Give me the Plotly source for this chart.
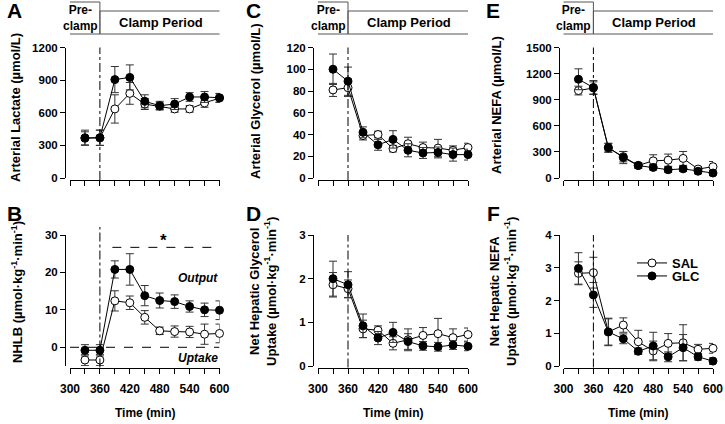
import plotly.graph_objects as go

# ── data ─────────────────────────────────────────────────────
time = [330, 360, 390, 420, 450, 480, 510, 540, 570, 600]

lac_sal = [365, 370, 635, 778, 680, 660, 635, 635, 690, 735]
lac_sal_err = [60, 70, 130, 100, 50, 30, 30, 30, 40, 40]
lac_glc = [370, 370, 905, 925, 705, 665, 680, 745, 745, 738]
lac_glc_err = [70, 70, 120, 115, 60, 40, 50, 40, 50, 40]

nhlb_sal = [-3.4, -3.4, 12.4, 11.9, 8.0, 4.4, 4.2, 4.1, 3.5, 3.7]
nhlb_sal_err = [1.5, 1.5, 2.7, 1.8, 1.8, 1.0, 1.5, 1.5, 2.7, 2.5]
nhlb_glc = [-0.8, -0.8, 20.8, 20.8, 13.8, 12.5, 12.2, 10.9, 10.0, 9.9]
nhlb_glc_err = [1.5, 1.5, 2.3, 4.2, 2.7, 2.0, 1.8, 1.5, 1.8, 2.5]

gly_sal = [81, 83, 39, 40, 27, 31.5, 28, 27.5, 25.5, 28]
gly_sal_err = [6, 8, 4, 3, 3, 6, 5, 8, 4, 4]
gly_glc = [100, 89, 42, 30.5, 35.5, 25.5, 23, 23.5, 21.5, 21.5]
gly_glc_err = [14, 13, 5, 5, 8, 6, 5, 5, 6, 5]

glyup_sal = [1.86, 1.77, 0.85, 0.82, 0.52, 0.60, 0.70, 0.74, 0.65, 0.72]
glyup_sal_err = [0.28, 0.2, 0.2, 0.1, 0.15, 0.25, 0.18, 0.35, 0.2, 0.15]
glyup_glc = [2.0, 1.86, 0.92, 0.64, 0.77, 0.56, 0.46, 0.44, 0.48, 0.45]
glyup_glc_err = [0.4, 0.3, 0.27, 0.15, 0.23, 0.18, 0.1, 0.1, 0.1, 0.1]

nefa_sal = [1005, 1035, 345, 245, 145, 197, 205, 225, 103, 130]
nefa_sal_err = [50, 70, 50, 60, 30, 70, 70, 80, 30, 60]
nefa_glc = [1135, 1040, 350, 235, 143, 122, 95, 105, 78, 57]
nefa_glc_err = [120, 80, 50, 70, 30, 30, 30, 30, 30, 30]

nefaup_sal = [2.83, 2.85, 1.04, 1.25, 0.74, 0.46, 0.69, 0.71, 0.51, 0.54]
nefaup_sal_err = [0.35, 0.47, 0.4, 0.22, 0.35, 0.3, 0.3, 0.55, 0.15, 0.15]
nefaup_glc = [2.98, 2.17, 1.04, 0.83, 0.45, 0.61, 0.28, 0.56, 0.28, 0.15]
nefaup_glc_err = [0.48, 0.38, 0.42, 0.15, 0.1, 0.42, 0.15, 0.4, 0.1, 0.1]

clamp_start = 360
sig_start, sig_end, sig_level = 385, 590, 26.7

W, H = 725, 424
FONT = "Liberation Sans, Arial, sans-serif"


def px_x(v):
    return v / W


def px_y(v):
    return 1 - v / H


def note(fig, x, y, text, size=12, **kw):
    fig.add_annotation(x=x, y=y, text=text, showarrow=False,
                       xanchor=kw.pop("xanchor", "center"), yanchor=kw.pop("yanchor", "middle"),
                       font=dict(family=FONT, size=size, color="black", weight="bold"), **kw)


fig = go.Figure()

# panel geometry in pixels: (x-domain left, right, y-axis x) / (y top, y bottom, x-axis line y)
cols = [(70, 219.5, 65), (318, 468, 313), (563.5, 713, 559)]
rows = [(47.5, 178, 180), (235, 366, 367.5)]

panels = [
    # (col, row, sal, sal_err, glc, glc_err, yrange, tickvals)
    (0, 0, lac_sal, lac_sal_err, lac_glc, lac_glc_err, [0, 1200], [0, 300, 600, 900, 1200]),
    (0, 1, nhlb_sal, nhlb_sal_err, nhlb_glc, nhlb_glc_err, [-5, 30], [0, 10, 20, 30]),
    (1, 0, gly_sal, gly_sal_err, gly_glc, gly_glc_err, [0, 120], [0, 20, 40, 60, 80, 100, 120]),
    (1, 1, glyup_sal, glyup_sal_err, glyup_glc, glyup_glc_err, [0, 3], [0, 1, 2, 3]),
    (2, 0, nefa_sal, nefa_sal_err, nefa_glc, nefa_glc_err, [0, 1500], [0, 300, 600, 900, 1200, 1500]),
    (2, 1, nefaup_sal, nefaup_sal_err, nefaup_glc, nefaup_glc_err, [0, 4], [0, 1, 2, 3, 4]),
]

shapes = []
for i, (c, r, sal, sal_e, glc, glc_e, yr, tv) in enumerate(panels, start=1):
    xa = "x" if i == 1 else f"x{i}"
    ya = "y" if i == 1 else f"y{i}"
    show = (c == 2 and r == 1)
    series = [("SAL", sal, sal_e, "white", "legend"), ("GLC", glc, glc_e, "black", "legend2")]
    for name, y, e, fill, lg in series:
        fig.add_trace(go.Scatter(
            x=time, y=y, name=name, mode="lines+markers",
            xaxis=xa, yaxis=ya, showlegend=show, legend=lg, cliponaxis=False,
            line=dict(color="black", width=1),
            marker=dict(size=8, color=fill, line=dict(color="black", width=1)),
            error_y=dict(type="data", array=e, color="#333333", thickness=1, width=4),
        ))

    x0, x1, yax = cols[c]
    top, bot, xline = rows[r]
    xkey = "xaxis" if i == 1 else f"xaxis{i}"
    ykey = "yaxis" if i == 1 else f"yaxis{i}"
    fig.layout[xkey] = dict(
        domain=[px_x(x0), px_x(x1)], anchor="free", position=px_y(xline), automargin=False,
        range=[300, 600], tickvals=[300, 360, 420, 480, 540, 600],
        showticklabels=(r == 1), ticks="outside", ticklen=5, tickwidth=1, ticklabelstandoff=5,
        tickcolor="black", showline=True, linecolor="black", linewidth=1,
        showgrid=False, zeroline=False,
        minor=dict(tickvals=[330, 390, 450, 510, 570], ticks="outside", ticklen=5,
                   tickwidth=1, tickcolor="black", showgrid=False),
        tickfont=dict(family=FONT, size=12, color="black", weight="bold"),
    )
    fig.layout[ykey] = dict(
        domain=[px_y(bot), px_y(top)], anchor="free", position=px_x(yax), automargin=False,
        range=yr, tickvals=tv, ticks="outside", ticklen=5, tickwidth=1,
        tickcolor="black", showline=True, linecolor="black", linewidth=1,
        showgrid=False, zeroline=False,
        tickfont=dict(family=FONT, size=11.5, color="black", weight="bold"),
    )

    # clamp start marker
    shapes.append(dict(type="line", xref=xa, yref="paper", x0=clamp_start, x1=clamp_start,
                       y0=px_y(xline), y1=px_y(top - (8 if (r == 1 and c == 0) else 0)),
                       line=dict(color="black", width=1, dash="dashdot")))

    if r == 0:
        # header boxes
        shapes.append(dict(type="rect", xref=xa, yref="paper", x0=282, x1=clamp_start,
                           y0=px_y(34), y1=px_y(2), line=dict(color="#555555", width=1)))
        shapes.append(dict(type="rect", xref=xa, yref="paper", x0=clamp_start, x1=604,
                           y0=px_y(34), y1=px_y(11), line=dict(color="#555555", width=1)))
        note(fig, 321, px_y(18), "Pre-<br>clamp", 12, xref=xa, yref="paper")
        note(fig, 482, px_y(22.5), "Clamp Period", 13, xref=xa, yref="paper")
    else:
        note(fig, (x0 + x1) / 2 / W, px_y(413), "Time (min)", 12, xref="paper", yref="paper")

# NHLB reference lines
shapes.append(dict(type="line", xref="x2", yref="y2", x0=300, x1=600, y0=0, y1=0,
                   line=dict(color="black", width=1, dash="dash")))
shapes.append(dict(type="line", xref="x2", yref="y2", x0=sig_start, x1=sig_end,
                   y0=sig_level, y1=sig_level, line=dict(color="black", width=1, dash="dash")))
note(fig, (sig_start + sig_end) / 2, sig_level, "*", 17, xref="x2", yref="y2",
     yanchor="bottom", yshift=-5)
note(fig, 600, 18.4, "<i>Output</i>", 12, xref="x2", yref="y2", xanchor="right")
note(fig, 600, -2.9, "<i>Uptake</i>", 12, xref="x2", yref="y2", xanchor="right")

# y-axis titles
unit_rate = "µmol·kg<sup>-1</sup>·min<sup>-1</sup>"
ytitles = [
    (15, 108, "Arterial Lactate (µmol/L)"),
    (17, 292, f"NHLB ({unit_rate})"),
    (256, 101, "Arterial Glycerol (µmol/L)"),
    (263, 292, f"Net Hepatic Glycerol<br>Uptake ({unit_rate})"),
    (497, 105, "Arterial NEFA (µmol/L)"),
    (503, 292, f"Net Hepatic NEFA<br>Uptake ({unit_rate})"),
]
for x, y, t in ytitles:
    note(fig, px_x(x), px_y(y), t, 13, xref="paper", yref="paper", textangle=-90)

# panel letters
for x, y, t in [(14, 11, "A"), (14, 213, "B"), (253, 11, "C"),
                (253, 213, "D"), (493, 11, "E"), (493, 213, "F")]:
    note(fig, px_x(x), px_y(y), t, 21, xref="paper", yref="paper")

legend_style = dict(xanchor="left", yanchor="middle", bgcolor="rgba(0,0,0,0)",
                    font=dict(family=FONT, size=13, color="black", weight="bold"),
                    borderwidth=0, tracegroupgap=0)
fig.update_layout(
    width=W, height=H, margin=dict(l=0, r=0, t=0, b=0, autoexpand=False),
    paper_bgcolor="white", plot_bgcolor="white",
    font=dict(family=FONT, color="black"),
    shapes=shapes,
    legend=dict(x=px_x(632), y=px_y(263), **legend_style),
    legend2=dict(x=px_x(632), y=px_y(276), **legend_style),
)

fig.write_html("out.html", config={"displayModeBar": False},
               post_script="document.body.style.margin='0px';")
